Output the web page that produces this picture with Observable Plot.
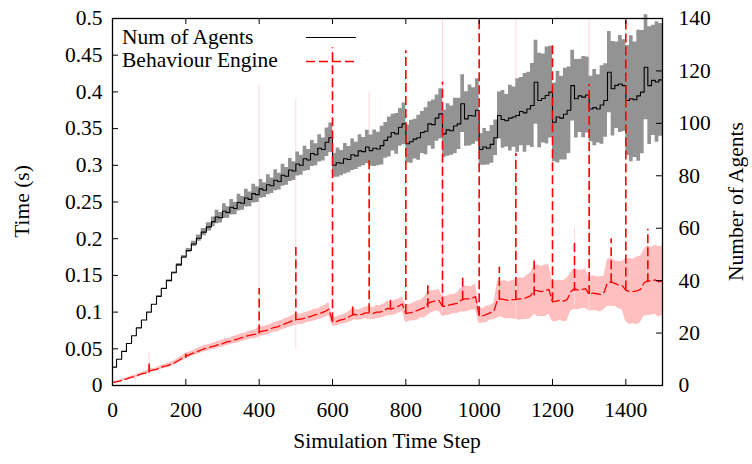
<!DOCTYPE html>
<html><head><meta charset="utf-8">
<script src="https://cdn.jsdelivr.net/npm/d3@7"></script>
<script src="https://cdn.jsdelivr.net/npm/@observablehq/plot@0.6"></script>
<style>body{margin:0;background:#fff}#chart{width:752px;height:464px}svg text{font-family:"Liberation Serif","Times New Roman",serif !important}</style>
</head><body><div id="chart"></div>
<script>
// ---- data ----
const agentStep = [0,11,25,38,52,65,79,93,106,120,133,147,161,174,188,201,215,229,242,256,
270,280,290,300,310,320,330,340,350,360,370,380,390,400,410,420,430,440,450,460,470,480,490,
500,510,520,530,540,550,560,570,580,590,600,610,620,630,640,650,660,670,680,690,700,710,720,730,740,750,760,770,780,790,
800,810,820,830,840,850,860,870,880,890,900,910,920,930,940,950,960,970,980,990,1000,1010,1020,1030,1040,1050,1060,1070,1080,1090,
1100,1110,1120,1130,1140,1150,1160,1170,1180,1190,1200,1210,1220,1230,1240,1250,1260,1270,1280,1290,1300,1310,1320,1330,1340,
1350,1360,1370,1380,1390,1400,1410,1420,1430,1440,1450,1460,1470,1480,1490,1500];
const agentMean = [7,10,13,16,19,22,25,28,31,34,37,40,43,46,49,51.5,54,56.2,58.5,60.5,
62.5,64.3,64.0,66.5,66.0,68.0,67.5,69.8,69.5,71.5,71.0,73.2,72.8,75.0,74.5,76.6,76.2,78.3,77.8,80.2,79.8,82.2,81.8,
84.5,84.0,86.5,86.0,88.5,88.0,90.5,90.0,92.8,94.5,84.0,85.0,84.8,86.5,86.2,88.0,87.6,89.5,89.2,91.0,89.6,90.5,90.2,91.5,93.5,94.8,96.5,96.0,98.5,99.8,
92.2,93.0,94.0,94.5,96.5,97.0,99.8,99.5,102.0,103.6,96.0,97.5,97.2,99.0,99.8,107.5,101.7,103.0,102.8,105.0,90.0,91.0,90.5,92.0,94.5,103.0,101.5,101.0,102.0,102.4,
103.0,104.5,104.0,105.5,106.8,115.7,108.7,109.5,110.6,111.9,100.4,102.4,102.0,103.5,105.0,114.4,109.4,110.5,110.0,110.8,105.5,106.0,105.5,107.0,108.7,
119.5,113.2,114.5,115.0,114.4,108.7,109.4,109.0,110.5,111.9,121.4,114.4,116.4,115.8,116.6,116.4];
const agentSd = [0,0,0,0,0,0,0,0,0,0.2,0.2,0.3,0.4,0.5,0.6,0.8,1.0,1.2,1.4,1.6,
1.8,2.6,2.0,2.8,2.2,3.0,2.4,3.2,2.6,3.4,2.8,3.6,3.0,
3.6,2.8,3.8,3.0,4.0,3.2,4.2,3.4,4.4,3.6,
4.6,3.8,4.8,4.0,5.0,4.2,5.2,4.4,5.4,5.6,
4.6,5.6,4.8,5.8,5.0,6.0,5.2,6.2,5.4,6.4,
6.0,7.0,6.4,7.4,6.8,7.6,7.0,7.8,7.2,8.0,
7.2,8.2,7.6,8.6,8.0,9.0,8.4,9.4,8.8,9.6,
9.0,10.0,9.4,10.6,9.8,11.0,10.4,11.6,10.8,12.0,
6.0,7.0,6.4,7.2,6.8,
9.0,11.0,10.0,12.5,11.5,14.0,13.0,15.0,14.0,16.0,
16.0,18.0,17.0,18.5,17.5,
15.0,17.5,16.0,17.5,16.5,
13.5,15.0,14.0,15.5,14.5,
12.5,14.5,13.0,15.0,14.0,
15.5,18.0,16.5,18.5,17.5,
21.0,24.0,22.0,25.0,23.5,
20.0,22.5,21.0,23.0,21.5,22.0];

const timeStep = [0,10,20,30,40,50,60,70,80,90,100,110,120,130,140,150,160,170,180,190,200,210,220,230,240,250,260,270,280,290,
300,310,320,330,340,350,360,370,380,390,400,410,420,430,440,450,460,470,480,490,500,510,520,530,540,550,560,570,580,590,
600,610,620,630,640,650,660,670,680,690,700,710,720,730,740,750,760,770,780,790,800,810,820,830,840,850,860,870,880,890,
900,910,920,930,940,950,960,970,980,990,1000,1010,1020,1030,1040,1050,1060,1070,1080,1090,1100,1110,1120,1130,1140,
1150,1160,1170,1180,1190,1200,1210,1220,1230,1240,1250,1260,1270,1280,1290,1300,1310,1320,1330,1340,1350,1360,1370,1380,1390,
1400,1410,1420,1430,1440,1450,1460,1470,1480,1490,1500];
const timeMean = [0.004,0.005,0.006,0.008,0.009,0.011,0.012,0.014,0.016,0.017,
0.020,0.021,0.022,0.024,0.026,0.027,0.029,0.031,0.034,0.037,
0.040,0.042,0.044,0.046,0.048,0.050,0.051,0.053,0.054,0.056,
0.057,0.059,0.060,0.062,0.063,0.065,0.066,0.068,0.069,0.070,
0.073,0.074,0.075,0.077,0.079,0.080,0.082,0.084,0.086,0.088,
0.090,0.090,0.091,0.093,0.094,0.096,0.097,0.099,0.101,0.104,
0.087,0.087,0.089,0.090,0.092,0.095,0.097,0.096,0.097,0.099,
0.099,0.098,0.100,0.100,0.102,0.105,0.104,0.106,0.108,0.111,
0.098,0.099,0.100,0.102,0.104,0.106,0.112,0.114,0.115,0.116,
0.108,0.108,0.110,0.111,0.112,0.116,0.118,0.118,0.119,0.121,
0.095,0.095,0.097,0.099,0.101,0.117,0.118,0.117,0.116,0.117,
0.117,0.118,0.118,0.120,0.122,0.130,0.129,0.128,0.129,0.131,
0.114,0.115,0.116,0.115,0.117,0.128,0.132,0.130,0.131,0.132,
0.124,0.126,0.125,0.124,0.126,0.140,0.141,0.139,0.137,0.136,
0.130,0.128,0.128,0.129,0.131,0.140,0.143,0.142,0.144,0.141,0.143];
const timeSd = [0.001,0.001,0.001,0.0015,0.0015,0.0015,0.002,0.002,0.002,0.002,
0.003,0.002,0.002,0.0025,0.0025,0.003,0.003,0.003,0.003,0.0035,
0.004,0.0035,0.0035,0.004,0.004,0.004,0.0045,0.004,0.0045,0.0045,
0.005,0.005,0.0045,0.005,0.005,0.0055,0.005,0.0055,0.0055,0.006,
0.007,0.006,0.0065,0.006,0.0065,0.007,0.0065,0.007,0.007,0.0075,
0.008,0.007,0.0075,0.007,0.0075,0.008,0.0075,0.008,0.0085,0.009,
0.006,0.006,0.0065,0.006,0.007,0.008,0.0075,0.007,0.0075,0.008,
0.009,0.008,0.009,0.0085,0.009,0.010,0.009,0.010,0.0095,0.010,
0.012,0.011,0.012,0.013,0.012,0.014,0.016,0.015,0.014,0.015,
0.014,0.013,0.014,0.013,0.014,0.016,0.018,0.017,0.016,0.018,
0.011,0.010,0.011,0.010,0.011,0.025,0.024,0.026,0.025,0.026,
0.027,0.029,0.028,0.030,0.031,0.033,0.035,0.034,0.035,0.034,
0.027,0.028,0.027,0.028,0.029,0.026,0.028,0.027,0.026,0.027,
0.022,0.024,0.023,0.024,0.023,0.032,0.033,0.031,0.032,0.033,
0.043,0.045,0.044,0.046,0.045,0.045,0.048,0.046,0.047,0.048,0.047];

// spikes of the Behaviour Engine time
const spikeStep = [100,200,400,500,600,655,700,758,800,860,900,955,1000,1055,1100,1150,1200,1260,1300,1360,1400,1460];
const spikePeak = [0.03,0.043,0.132,0.188,0.46,0.107,0.31,0.116,0.456,0.141,0.413,0.146,0.5,0.161,0.316,0.175,0.466,0.198,0.41,0.2,0.5,0.213];
// faint spread spikes (pink)
const pinkStep = [100,400,500,700,900,1100,1260,1300];
const pinkTop = [0.045,0.41,0.39,0.40,0.5,0.5,0.215,0.5];
const pinkBottom = [0.012,0.062,0.05,0.09,0.1,0.09,0.11,0.1];

const xTicks = [0,200,400,600,800,1000,1200,1400];
const yTicks = [0,0.05,0.1,0.15,0.2,0.25,0.3,0.35,0.4,0.45,0.5];
const agentTicks = [0,20,40,60,80,100,120,140];
const Y_MAX = 0.5, Y2_MAX = 140;
const toY = a => a * Y_MAX / Y2_MAX;

// ---- tables ----
const agentRows = agentStep.map((s,i)=>({step:s, mean:agentMean[i], lo:agentMean[i]-agentSd[i], hi:agentMean[i]+agentSd[i]}));
const timeRows = timeStep.map((s,i)=>({step:s, mean:timeMean[i], lo:timeMean[i]-timeSd[i], hi:timeMean[i]+timeSd[i]}));
const spikeRows = spikeStep.map((s,i)=>{
  const k = Math.round(s/10);
  const base = Math.min(timeMean[k], timeMean[Math.max(0,k-1)]);
  return {step:s, base, peak:spikePeak[i]};
});
const pinkRows = pinkStep.map((s,i)=>({step:s, lo:pinkBottom[i], hi:pinkTop[i]}));

const RED = "#ff0000";
const DASH = "9,4";
const FONT = '"Liberation Serif","Times New Roman",serif';
const FS = "21.5px";
const svg = Plot.plot({
  width: 752, height: 464,
  marginLeft: 112, marginRight: 90, marginTop: 18, marginBottom: 79,
  x: {domain:[0,1500], label:null},
  y: {domain:[0,Y_MAX], label:null},
  style: {fontFamily:FONT, fontSize:FS, background:"#fff", color:"#000", overflow:"visible"},
  marks: [
    Plot.areaY(timeRows, {x:"step", y1:"lo", y2:"hi", fill:"#ffbfbf", curve:"linear"}),
    Plot.ruleX(pinkRows, {x:"step", y1:"lo", y2:"hi", stroke:"#ffdada", strokeWidth:1}),
    Plot.areaY(agentRows, {x:"step", y1:d=>toY(d.lo), y2:d=>toY(d.hi), fill:"#939393", curve:"step-after"}),
    Plot.lineY(agentRows, {x:"step", y:d=>toY(d.mean), stroke:"#000", strokeWidth:1.1, curve:"step-after"}),
    Plot.lineY(timeRows, {x:"step", y:"mean", stroke:RED, strokeWidth:1.3, strokeDasharray:DASH}),
    Plot.ruleX(spikeRows, {x:"step", y1:"base", y2:"peak", stroke:RED, strokeWidth:1.6, strokeDasharray:DASH}),
    Plot.tickX(xTicks, {x:d=>d, insetTop:361, stroke:"#000"}),
    Plot.tickX(xTicks, {x:d=>d, insetBottom:361, stroke:"#000"}),
    Plot.tickY(yTicks, {y:d=>d, insetRight:544, stroke:"#000"}),
    Plot.tickY(agentTicks.map(toY), {y:d=>d, insetLeft:544, stroke:"#000"}),
    Plot.frame({stroke:"#000", strokeWidth:1.3}),
    Plot.axisX(xTicks, {tickSize:0, tickPadding:16, label:null, fontSize:FS, tickFormat:d=>String(d)}),
    Plot.axisY(yTicks, {anchor:"left", tickSize:0, tickPadding:10, label:null, fontSize:FS, tickFormat:d=>String(+d.toFixed(2))}),
    Plot.axisY(agentTicks.map(toY), {anchor:"right", tickSize:0, tickPadding:16, label:null, fontSize:FS, tickFormat:d=>String(Math.round(d*Y2_MAX/Y_MAX))})
  ]
});
document.getElementById("chart").appendChild(svg);

// axis titles and legend
const s = d3.select(svg);
const T = (x,y,txt,anchor,rot)=>{
  const t = s.append("text").attr("font-family",FONT).attr("font-size",FS).attr("fill","#000").attr("text-anchor",anchor).text(txt);
  if (rot) t.attr("transform",`translate(${x},${y}) rotate(-90)`); else t.attr("x",x).attr("y",y);
};
T(387,448,"Simulation Time Step","middle",false);
T(29,201.5,"Time (s)","middle",true);
T(743,201.5,"Number of Agents","middle",true);
T(122,43.5,"Num of Agents","start",false);
T(122,67,"Behaviour Engine","start",false);
s.append("line").attr("x1",306).attr("x2",356).attr("y1",37.5).attr("y2",37.5).attr("stroke","#000").attr("stroke-width",1.1);
s.append("line").attr("x1",306).attr("x2",356).attr("y1",61.5).attr("y2",61.5).attr("stroke",RED).attr("stroke-width",1.3).attr("stroke-dasharray",DASH);
s.selectAll("text").attr("font-family",FONT);
</script></body></html>
